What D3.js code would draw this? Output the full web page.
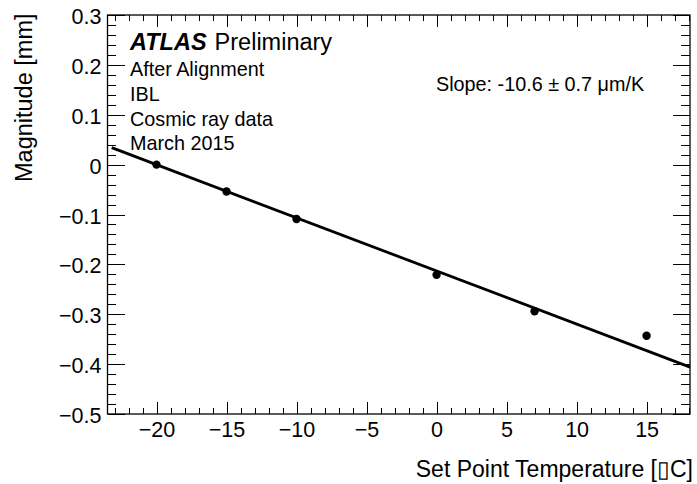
<!DOCTYPE html>
<html lang="en">
	<head>
		<meta charset="utf-8">
		<title>IBL distortion vs set point temperature</title>
		<script src="https://cdn.jsdelivr.net/npm/d3@7"></script>
		<style type="text/css">
		body { margin: 0; background: #fff; }
		text { font-family: "Liberation Sans", Arial, Helvetica, sans-serif; fill: #000; }
		.axis path { display: none; }
		.axis line { stroke: #000; stroke-width: 1; shape-rendering: crispEdges; }
		</style>
	</head>
	<body>
		<script type="text/javascript">
		var temps = [-20, -15, -10, 0, 7, 15];
		var magnitudes = [0.0, -0.054, -0.109, -0.221, -0.294, -0.343];

		// end points of the fitted line
		var fitTemps = [-23.2, 18.1];
		var fitMagnitudes = [0.034, -0.406];

		// axis ticks and labels
		var xTicks = [-20, -15, -10, -5, 0, 5, 10, 15];
		var xTickLabels = ["\u221220", "\u221215", "\u221210", "\u22125", "0", "5", "10", "15"];
		var xMinorTicks = [-23, -22, -21, -19, -18, -17, -16, -14, -13, -12, -11, -9, -8, -7, -6, -4, -3, -2, -1,
			1, 2, 3, 4, 6, 7, 8, 9, 11, 12, 13, 14, 16, 17, 18];
		var yTicks = [-0.5, -0.4, -0.3, -0.2, -0.1, 0, 0.1, 0.2, 0.3];
		var yTickLabels = ["\u22120.5", "\u22120.4", "\u22120.3", "\u22120.2", "\u22120.1", "0", "0.1", "0.2", "0.3"];
		var yMinorTicks = [-0.48, -0.46, -0.44, -0.42, -0.38, -0.36, -0.34, -0.32, -0.28, -0.26, -0.24, -0.22,
			-0.18, -0.16, -0.14, -0.12, -0.08, -0.06, -0.04, -0.02, 0.02, 0.04, 0.06, 0.08,
			0.12, 0.14, 0.16, 0.18, 0.22, 0.24, 0.26, 0.28];

		// text
		var infoLines = ["After Alignment", "IBL", "Cosmic ray data", "March 2015"];
		var slopeText = "Slope: -10.6 \u00b1 0.7 \u03bcm/K";
		var xTitle = "Set Point Temperature [\u25afC]";
		var yTitle = "Magnitude [mm]";

		var W = 697, H = 484;
		var frame = {left: 107.5, right: 690, top: 15, bottom: 414};

		var x = d3.scaleLinear().domain([-23.5, 18.1]).range([frame.left, frame.right]);
		var y = d3.scaleLinear().domain([-0.5, 0.3]).range([frame.bottom, frame.top]);

		//Create SVG element
		var svg = d3.select("body").append("svg")
					.attr("width", W)
					.attr("height", H);

		svg.append("rect").attr("width", W).attr("height", H).attr("fill", "#fff");

		var xMajor = 12, xMinor = 6, yMajor = 17.5, yMinor = 8.7;

		//bottom axis
		var bottom = svg.append("g")
			.attr("class", "axis")
			.attr("transform", "translate(0," + frame.bottom + ")")
			.call(d3.axisBottom(x).tickValues(xTicks).tickSize(-xMajor)
				.tickFormat(function(d, i){ return xTickLabels[i]; }));
		bottom.selectAll("text")
			.attr("y", 22.5)
			.attr("dy", null)
			.attr("fill", "#000")
			.style("font-size", "21.5px")
			.style("font-family", "'Liberation Sans', Arial, sans-serif");
		svg.append("g")
			.attr("class", "axis")
			.attr("transform", "translate(0," + frame.bottom + ")")
			.call(d3.axisBottom(x).tickValues(xMinorTicks).tickSize(-xMinor).tickFormat(""));

		//top axis
		svg.append("g")
			.attr("class", "axis")
			.attr("transform", "translate(0," + frame.top + ")")
			.call(d3.axisTop(x).tickValues(xTicks).tickSize(-xMajor).tickFormat(""));
		svg.append("g")
			.attr("class", "axis")
			.attr("transform", "translate(0," + frame.top + ")")
			.call(d3.axisTop(x).tickValues(xMinorTicks).tickSize(-xMinor).tickFormat(""));

		//left axis
		var left = svg.append("g")
			.attr("class", "axis")
			.attr("transform", "translate(" + frame.left + ",0)")
			.call(d3.axisLeft(y).tickValues(yTicks).tickSize(-yMajor)
				.tickFormat(function(d, i){ return yTickLabels[i]; }));
		left.selectAll("text")
			.attr("x", -6)
			.attr("dy", "0.4em")
			.attr("fill", "#000")
			.style("font-size", "21.5px")
			.style("font-family", "'Liberation Sans', Arial, sans-serif");
		svg.append("g")
			.attr("class", "axis")
			.attr("transform", "translate(" + frame.left + ",0)")
			.call(d3.axisLeft(y).tickValues(yMinorTicks).tickSize(-yMinor).tickFormat(""));

		//right axis
		svg.append("g")
			.attr("class", "axis")
			.attr("transform", "translate(" + frame.right + ",0)")
			.call(d3.axisRight(y).tickValues(yTicks).tickSize(-yMajor).tickFormat(""));
		svg.append("g")
			.attr("class", "axis")
			.attr("transform", "translate(" + frame.right + ",0)")
			.call(d3.axisRight(y).tickValues(yMinorTicks).tickSize(-yMinor).tickFormat(""));

		//frame
		svg.append("rect")
			.attr("x", frame.left)
			.attr("y", frame.top)
			.attr("width", frame.right - frame.left)
			.attr("height", frame.bottom - frame.top)
			.attr("fill", "none")
			.attr("stroke", "#000")
			.attr("stroke-width", 1.3);

		//fit line
		var line = d3.line()
			.x(function(d){ return x(d[0]); })
			.y(function(d){ return y(d[1]); });
		svg.append("path")
			.datum(d3.zip(fitTemps, fitMagnitudes))
			.attr("d", line)
			.attr("fill", "none")
			.attr("stroke", "#000")
			.attr("stroke-width", 2.8);

		//points
		svg.selectAll(".point")
			.data(d3.zip(temps, magnitudes))
			.enter().append("circle")
			.attr("class", "point")
			.attr("cx", function(d){ return x(d[0]); })
			.attr("cy", function(d){ return y(d[1]); })
			.attr("r", 4.2)
			.attr("fill", "#000");

		//ATLAS label
		var label = svg.append("text")
			.attr("x", 130)
			.attr("y", 49.5)
			.style("font-size", "23.5px");
		label.append("tspan")
			.style("font-weight", "bold")
			.style("font-style", "italic")
			.text("ATLAS");
		label.append("tspan")
			.attr("dx", 8)
			.text("Preliminary");

		svg.selectAll(".info")
			.data(infoLines)
			.enter().append("text")
			.attr("class", "info")
			.attr("x", 130)
			.attr("y", function(d, i){ return 76 + i * 24.8; })
			.style("font-size", "19.8px")
			.text(function(d){ return d; });

		svg.append("text")
			.attr("x", 436)
			.attr("y", 90.5)
			.style("font-size", "19.8px")
			.text(slopeText);

		//axis titles
		svg.append("text")
			.attr("x", 693)
			.attr("y", 476.5)
			.attr("text-anchor", "end")
			.style("font-size", "23px")
			.text(xTitle);

		svg.append("text")
			.attr("transform", "translate(31.5,13.5) rotate(-90)")
			.attr("text-anchor", "end")
			.style("font-size", "23.5px")
			.text(yTitle);
		</script>
	</body>
</html>
